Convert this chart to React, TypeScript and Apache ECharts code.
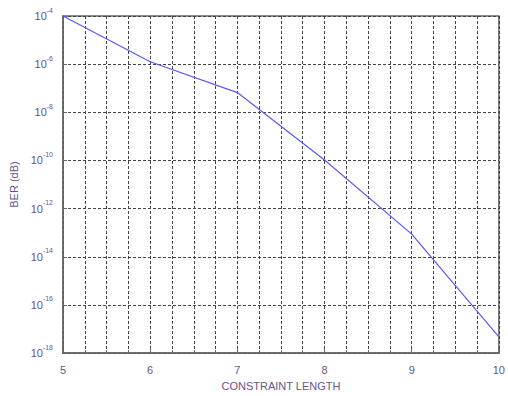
import React, { useEffect, useRef } from "react";
import * as echarts from "echarts";

const constraintLengths = [5, 6, 7, 8, 9, 10];
const berValues = [1e-4, 1.26e-6, 6.6e-8, 1.05e-10, 8.7e-14, 4.7e-18];
const yExponents = [-4, -6, -8, -10, -12, -14, -16, -18];
const xTickLabels = ["5", "6", "7", "8", "9", "10"];

const textColor = "#6a5588";

export default function App() {
  const ref = useRef<HTMLDivElement>(null);
  useEffect(() => {
    if (!ref.current) return;
    const chart = echarts.init(ref.current, null, { renderer: "svg" });
    const gridLine = { show: true, lineStyle: { color: "#444", type: [3, 2] as any, width: 1 } };
    chart.setOption({
      animation: false,
      grid: {
        left: 63,
        right: 8,
        top: 16,
        bottom: 37,
        show: true,
        borderColor: "#666",
        borderWidth: 1.5,
        backgroundColor: "#fff",
      },
      xAxis: {
        type: "value",
        min: 5,
        max: 10,
        interval: 1,
        name: "CONSTRAINT LENGTH",
        nameLocation: "middle",
        nameGap: 22,
        nameTextStyle: { color: textColor, fontSize: 11, fontFamily: "Liberation Sans, Arial, sans-serif" },
        axisLine: { show: true, lineStyle: { color: "#666", width: 1.5 } },
        axisTick: { show: true, inside: true, length: 4, lineStyle: { color: "#666" } },
        minorTick: { show: true, splitNumber: 4, length: 3, lineStyle: { color: "#666" } },
        axisLabel: {
          color: textColor,
          fontSize: 11,
          margin: 11,
          fontFamily: "Liberation Sans, Arial, sans-serif",
          formatter: (v: number) => {
            const i = constraintLengths.indexOf(v);
            return i >= 0 ? xTickLabels[i] : "";
          },
        },
        splitLine: gridLine,
        minorSplitLine: gridLine,
      },
      yAxis: {
        type: "log",
        logBase: 10,
        min: Math.pow(10, yExponents[yExponents.length - 1]),
        max: Math.pow(10, yExponents[0]),
        interval: 2,
        name: "BER (dB)",
        nameLocation: "middle",
        nameGap: 41,
        nameTextStyle: { color: textColor, fontSize: 11, fontFamily: "Liberation Sans, Arial, sans-serif" },
        axisLine: { show: true, lineStyle: { color: "#666", width: 1.5 } },
        axisTick: { show: true, inside: true, length: 4, lineStyle: { color: "#666" } },
        axisLabel: {
          margin: 10,
          formatter: (v: number) => {
            const e = Math.round(Math.log10(v));
            return `{b|10}{s|${e}}`;
          },
          rich: {
            b: { color: textColor, fontSize: 11, fontFamily: "Liberation Sans, Arial, sans-serif", padding: [4, 0, 4, 0] },
            s: { color: textColor, fontSize: 7, fontFamily: "Liberation Sans, Arial, sans-serif", verticalAlign: "top" },
          },
        },
        splitLine: gridLine,
      },
      series: [
        {
          type: "line",
          data: constraintLengths.map((x, i) => [x, berValues[i]]),
          showSymbol: false,
          symbol: "none",
          lineStyle: { color: "#5a5af5", width: 1.2 },
          z: 5,
        },
      ],
    });
    return () => chart.dispose();
  }, []);
  return (
    <div
      ref={ref}
      style={{ position: "fixed", left: 0, top: 0, width: 508, height: 396, background: "#fff" }}
    />
  );
}
